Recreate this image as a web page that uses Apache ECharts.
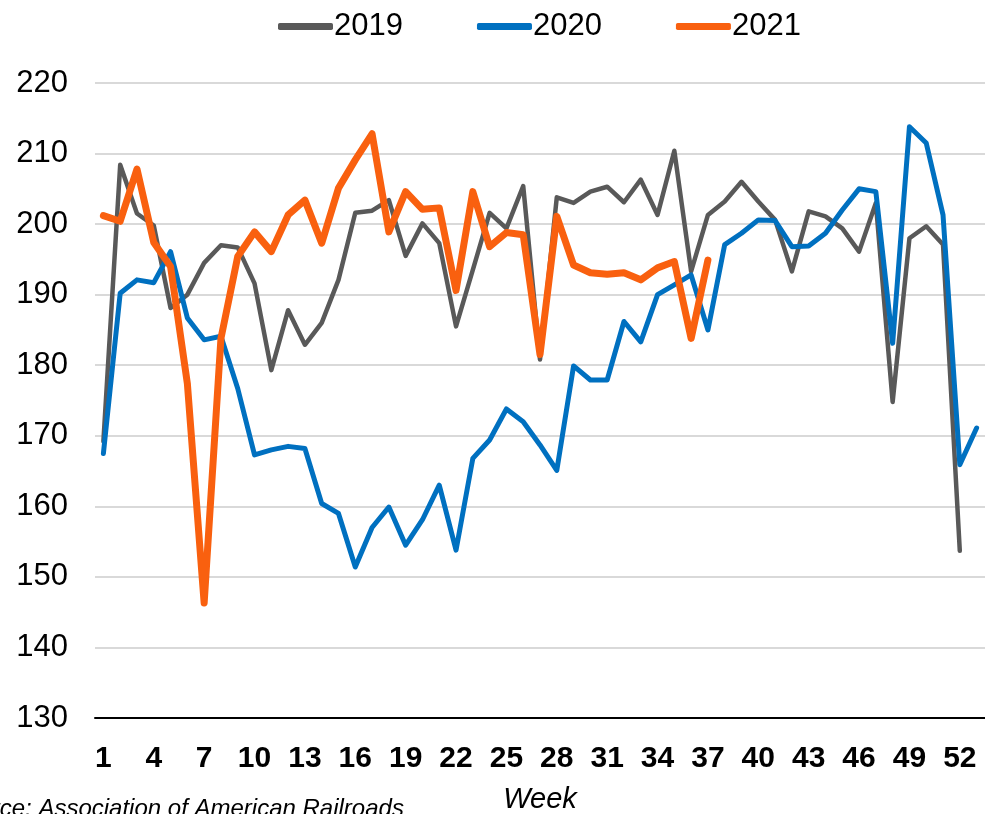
<!DOCTYPE html>
<html>
<head>
<meta charset="utf-8">
<script src="https://cdn.jsdelivr.net/npm/echarts@6/dist/echarts.min.js"></script>
<style>
html, body { margin: 0; padding: 0; background: #fff; }
#main { width: 985px; height: 814px; }
</style>
</head>
<body>
<div id="main"></div>
<script>
var weeks = [];
for (var i = 1; i <= 53; i++) weeks.push(String(i));

var y2019 = [169.2, 208.4, 201.5, 199.8, 188.1, 190.0, 194.5, 197.0, 196.7, 191.6,
	179.3, 187.8, 182.9, 186.0, 192.1, 201.6, 201.9, 203.4, 195.5, 200.1,
	197.3, 185.5, 193.5, 201.6, 199.4, 205.4, 180.8, 203.8, 203.0, 204.6,
	205.3, 203.1, 206.3, 201.3, 210.4, 193.3, 201.3, 203.2, 206.0, 203.2,
	200.6, 193.3, 201.8, 201.1, 199.4, 196.1, 203.0, 174.8, 198.0, 199.7,
	197.1, 153.7];
var y2020 = [167.5, 190.2, 192.1, 191.7, 196.1, 186.7, 183.6, 184.1, 176.7, 167.3,
	168.0, 168.5, 168.2, 160.4, 159.0, 151.4, 157.0, 159.9, 154.5, 158.1,
	163.0, 153.8, 166.8, 169.4, 173.8, 172.0, 168.7, 165.1, 179.9, 177.9,
	177.9, 186.2, 183.3, 190.0, 191.4, 192.8, 185.0, 197.1, 198.7, 200.6,
	200.5, 196.8, 196.9, 198.7, 202.0, 205.0, 204.6, 183.1, 213.8, 211.5,
	201.3, 165.9, 171.1];
var y2021 = [201.2, 200.4, 207.8, 197.4, 194.0, 177.4, 146.3, 183.8, 195.4, 198.9,
	196.1, 201.3, 203.4, 197.3, 205.1, 209.1, 212.8, 198.9, 204.6, 202.1,
	202.3, 190.6, 204.6, 196.8, 198.8, 198.5, 181.5, 201.1, 194.2, 193.1,
	192.9, 193.1, 192.1, 193.8, 194.7, 183.8, 194.9];

var font = '"Liberation Sans", Arial, sans-serif';

var myChart = echarts.init(document.getElementById('main'));
var option = {
	animation: false,
	color: ['#595959', '#0070C0', '#F9600F'],
	textStyle: { fontFamily: font },
	legend: {
		left: 273,
		top: 6,
		itemWidth: 55,
		itemHeight: 7,
		itemGap: 74,
		icon: 'roundRect',
		textStyle: { fontFamily: font, fontSize: 31, color: '#000', padding: [0, 0, 0, -4] },
		data: ['2019', '2020', '2021']
	},
	grid: {
		left: 95,
		right: 0,
		top: 83,
		bottom: 96,
		containLabel: false,
		outerBoundsMode: 'none'
	},
	xAxis: {
		type: 'category',
		data: weeks,
		boundaryGap: true,
		name: 'Week',
		nameLocation: 'middle',
		nameGap: 67,
		nameTextStyle: { fontFamily: font, fontSize: 29, fontStyle: 'italic', color: '#000' },
		axisLine: { lineStyle: { color: '#000', width: 2 } },
		axisTick: { show: false },
		axisLabel: {
			interval: 2,
			margin: 26,
			fontFamily: font,
			fontSize: 30,
			fontWeight: 'bold',
			color: '#000'
		}
	},
	yAxis: {
		type: 'value',
		min: 130,
		max: 220,
		interval: 10,
		axisLine: { show: false },
		axisTick: { show: false },
		axisLabel: { margin: 27, fontFamily: font, fontSize: 31, color: '#000' },
		splitLine: { lineStyle: { color: '#d9d9d9', width: 2 } }
	},
	graphic: [{
		type: 'text',
		left: -51,
		top: 797,
		style: {
			text: 'Source: Association of American Railroads',
			font: 'italic 24px ' + font,
			fill: '#000'
		}
	}],
	series: [
		{
			name: '2019',
			type: 'line',
			data: y2019,
			showSymbol: false,
			lineStyle: { width: 4.5, color: '#595959', cap: 'round', join: 'round' }
		},
		{
			name: '2020',
			type: 'line',
			data: y2020,
			showSymbol: false,
			lineStyle: { width: 5, color: '#0070C0', cap: 'round', join: 'round' }
		},
		{
			name: '2021',
			type: 'line',
			data: y2021,
			showSymbol: false,
			lineStyle: { width: 7, color: '#F9600F', cap: 'round', join: 'round' }
		}
	]
};
myChart.setOption(option);
</script>
</body>
</html>
